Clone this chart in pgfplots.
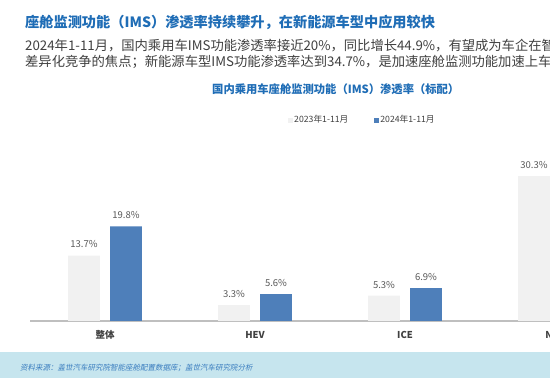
\documentclass[border=0pt]{standalone}
\usepackage{pgfplots}
\pgfplotsset{compat=1.18}
\usepackage{fontspec}
\setmainfont{Noto Sans CJK SC}
\newfontfamily\slantfont[FakeSlant=0.2]{Noto Sans CJK SC}
\definecolor{titleblue}{HTML}{1F6DB6}
\definecolor{bodygray}{HTML}{404040}
\definecolor{bar23}{HTML}{F1F1F1}
\definecolor{bar24}{HTML}{4E7FBA}
\definecolor{labgray}{HTML}{595959}
\definecolor{axisgray}{HTML}{BFBFBF}
\definecolor{band}{HTML}{C6E5EE}
\definecolor{foottext}{HTML}{3A7DBF}

\pgfplotstableread{
x  y
0  13.7
1  3.3
2  5.3
3  30.3
}\dataA
\pgfplotstableread{
x  y
0  19.8
1  5.6
2  6.9
3  34.7
}\dataB

\begin{document}
\begin{tikzpicture}
\useasboundingbox (0,0) rectangle (550pt,378pt);
\clip (0,0) rectangle (550pt,378pt);
\fill[white] (0,0) rectangle (550pt,378pt);
\fill[band] (0,0) rectangle (550pt,26pt);
\node[anchor=west, inner sep=0, text=foottext, font=\slantfont\fontsize{7.5pt}{9pt}\selectfont] at (20pt,10pt) {资料来源：盖世汽车研究院智能座舱配置数据库；盖世汽车研究院分析};
\node[anchor=west, inner sep=0, text=titleblue, font=\bfseries\fontsize{14.2pt}{16pt}\selectfont] at (25pt,356pt) {座舱监测功能（IMS）渗透率持续攀升，在新能源车型中应用较快};
\node[anchor=west, inner sep=0, text=bodygray, font=\fontsize{13.3pt}{15pt}\selectfont] at (25pt,332.5pt) {2024年1-11月，国内乘用车IMS功能渗透率接近20\%，同比增长44.9\%，有望成为车企在智};
\node[anchor=west, inner sep=0, text=bodygray, font=\fontsize{13.3pt}{15pt}\selectfont] at (25pt,316.5pt) {差异化竞争的焦点；新能源车型IMS功能渗透率达到34.7\%，是加速座舱监测功能加速上车的};
\node[anchor=west, inner sep=0, text=titleblue, font=\bfseries\fontsize{11.3pt}{13pt}\selectfont] at (212pt,289pt) {国内乘用车座舱监测功能（IMS）渗透率（标配）};
\begin{axis}[
  at={(30pt,57pt)}, anchor=south west,
  scale only axis, width=570pt, height=191.2pt,
  xmin=-0.5, xmax=3.3, ymin=0, ymax=40,
  axis x line*=bottom, axis y line=none,
  x axis line style={draw=axisgray, line width=1.3pt, -},
  xtick={0,1,2,3}, xticklabels={整体,HEV,ICE,NEV},
  major tick length=0pt, ytick=\empty,
  xticklabel style={anchor=center, yshift=-13.5pt, text=bodygray, font=\bfseries\fontsize{9.5pt}{11pt}\selectfont},
  ybar, bar width=31.7pt,
  clip=true,
  nodes near coords={\pgfmathprintnumber[assume math mode=true,fixed,fixed zerofill,precision=1]{\pgfplotspointmeta}\%},
  every node near coord/.append style={anchor=center, yshift=11pt, text=labgray, font=\fontsize{9.5pt}{11pt}\selectfont},
  legend columns=2,
  legend style={at={(0.4526,1.051)}, anchor=west, draw=none, fill=none, inner sep=0pt,
    font=\fontsize{8.7pt}{10pt}\selectfont, text=bodygray,
    nodes={inner sep=1pt},
    /tikz/every even column/.append style={column sep=25pt}},
  legend image code/.code={\fill[#1] (0pt,-2.5pt) rectangle (5pt,2.5pt);},
]
\addplot[fill=bar23, draw=none, bar shift=-21pt] table[x=x,y=y] {\dataA};
\addplot[fill=bar24, draw=none, bar shift=21pt] table[x=x,y=y] {\dataB};
\legend{2023年1-11月,2024年1-11月}
\end{axis}
\end{tikzpicture}
\end{document}
